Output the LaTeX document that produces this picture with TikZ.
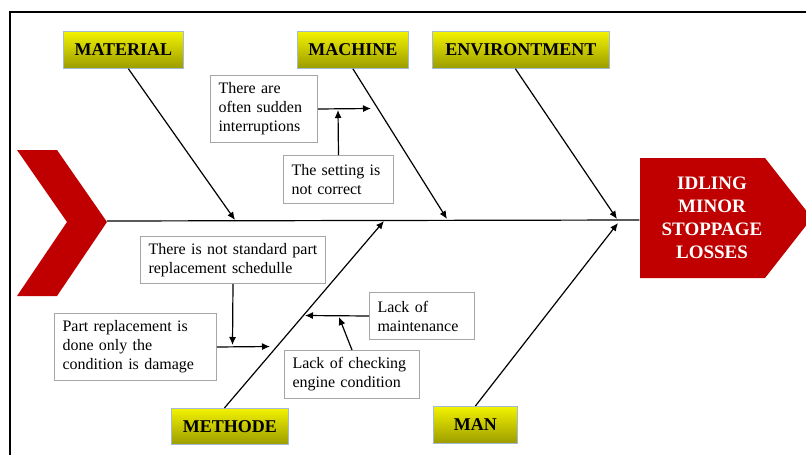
\documentclass[tikz,border=0pt]{standalone}
\usepackage{fontspec}
\setmainfont{Liberation Serif}
\usetikzlibrary{arrows.meta,calc}
\definecolor{fishred}{HTML}{C00000}
\definecolor{catTop}{HTML}{F2F200}
\definecolor{catBot}{HTML}{9C9C00}
\definecolor{catEdge}{HTML}{A3BAD6}
\definecolor{boxEdge}{HTML}{A6A6A6}
\tikzset{
  cat/.style={draw=catEdge, line width=0.8pt, top color=catTop, bottom color=catBot,
    font=\bfseries\fontsize{18}{20}\selectfont, inner sep=0pt, anchor=north west,
    minimum height=37pt},
  cause/.style={draw=boxEdge, line width=1pt, fill=white,
    font=\fontsize{16}{19}\selectfont, align=left, inner xsep=8pt, inner ysep=0pt,
    anchor=north west},
  bone/.style={line width=1.2pt, -{Latex[length=8pt,width=7pt]}},
  twig/.style={line width=1.2pt, -{Latex[length=8pt,width=7pt]}}
}
\begin{document}
\begin{tikzpicture}[x=1pt,y=-1pt]
\useasboundingbox (0,0) rectangle (806,455);
\clip (0,0) rectangle (806,455);
\fill[white] (0,0) rectangle (806,455);

% frame
\draw[line width=2pt] (806,12) -- (10,12) -- (10,456);

% tail chevron and head
\fill[fishred] (17,150) -- (57,150) -- (107,222) -- (57,296) -- (17,296) -- (67,222) -- cycle;
\coordinate (tail) at (107,221);
\node[fill=fishred, inner sep=0pt, minimum width=1pt, minimum height=1pt] (headbox) at (640,220) {};
\fill[fishred] (640,158) -- (765,158) -- (812,218) -- (765,278) -- (640,278) -- cycle;
\node[text=white, align=center, font=\bfseries\fontsize{19}{23}\selectfont] (head) at (712,218)
  {IDLING\\MINOR\\STOPPAGE\\LOSSES};

% spine
\draw[line width=1.2pt] (tail) -- (headbox.west);

% category boxes
\node[cat, minimum width=120pt] (mat) at (63,31) {MATERIAL};
\node[cat, minimum width=111pt] (mac) at (297,31) {MACHINE};
\node[cat, minimum width=177pt] (env) at (432,31) {ENVIRONTMENT};
\node[cat, minimum width=117pt, minimum height=36pt] (meth) at (171,408) {METHODE};
\node[cat, minimum width=84pt, minimum height=37pt] (man) at (433,406) {MAN};

% points where the bones meet the spine
\coordinate (pmat) at (235,220);
\coordinate (pmac) at (447,219);
\coordinate (penv) at (617,219);
\coordinate (pmeth) at (384,221);
\coordinate (pman) at (618,223);

\draw[bone] ([xshift=5pt]mat.south) -- (pmat);
\draw[bone] (mac.south) -- (pmac);
\draw[bone] ([xshift=-5.5pt]env.south) -- (penv);
\draw[bone] ([xshift=-5.5pt]meth.north) -- (pmeth);
\draw[bone] (man.north) -- (pman);

% sub-causes
\node[cause, text width=91pt, minimum height=67pt] (c1) at (210,75)
  {There are\\often sudden\\interruptions};
\node[cause, text width=94pt, minimum height=48pt] (c2) at (283,155)
  {The setting is\\not correct};
\node[cause, text width=169pt, minimum height=47pt] (c3) at (140,236)
  {There is not standard part\\replacement schedulle};
\node[cause, text width=146pt, minimum height=67pt] (c4) at (54,313)
  {Part replacement is\\done only the\\condition is damage};
\node[cause, text width=89pt, minimum height=47pt] (c5) at (369,292)
  {Lack of\\maintenance};
\node[cause, text width=119pt, minimum height=48pt] (c6) at (284,350)
  {Lack of checking\\engine condition};

\coordinate (t1) at (371,108.5);
\coordinate (t2) at (338,110);
\coordinate (t3) at (232.5,345);
\coordinate (t4) at (270,346.5);
\coordinate (t5) at (305,315.5);
\coordinate (t6) at (339,317);

\draw[twig] (c1.east) -- (t1);
\draw[twig] (c2.north) -- (t2);
\draw[twig] (c3.south) -- (t3);
\draw[twig] (c4.east) -- (t4);
\draw[twig] (c5.west) -- (t5);
\draw[twig] (c6.north) -- (t6);
\end{tikzpicture}
\end{document}
